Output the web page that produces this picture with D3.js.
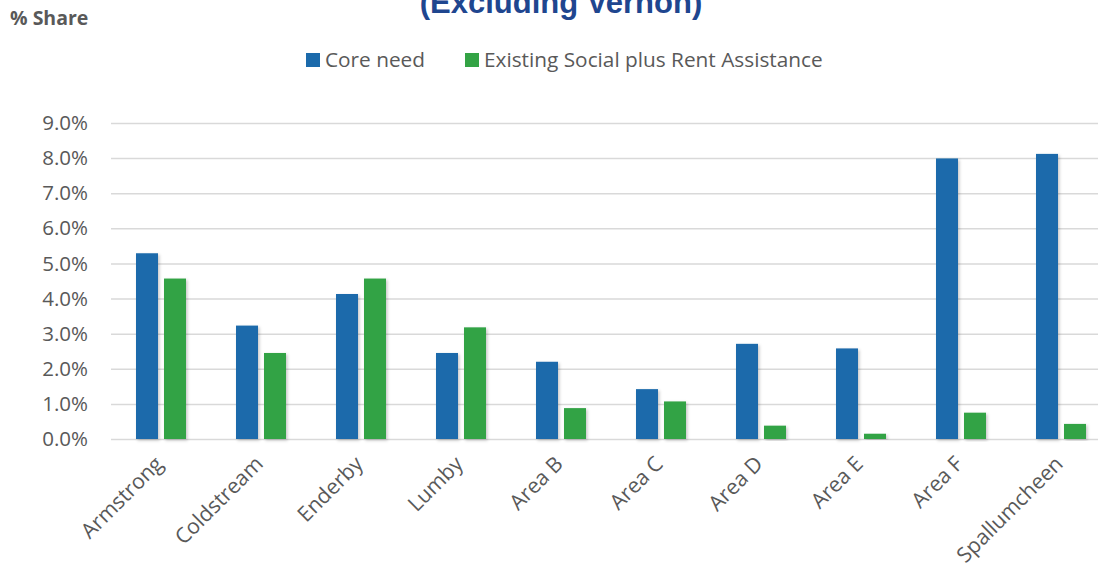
<!DOCTYPE html>
<html>
<head>
<meta charset="utf-8">
<script src="https://cdn.jsdelivr.net/npm/d3@7"></script>
<style>
  html, body { margin: 0; padding: 0; background: #fff; }
  svg { display: block; }
</style>
</head>
<body>
<svg id="chart" width="1098" height="571"></svg>
<script>
const categories = ["Armstrong", "Coldstream", "Enderby", "Lumby", "Area B", "Area C", "Area D", "Area E", "Area F", "Spallumcheen"];
const seriesNames = ["Core need", "Existing Social plus Rent Assistance"];
const coreNeed = [0.0529, 0.0323, 0.0413, 0.0245, 0.0220, 0.0142, 0.0271, 0.0258, 0.0799, 0.0812];
const existingSocial = [0.0457, 0.0245, 0.0457, 0.0318, 0.0088, 0.0107, 0.0038, 0.0015, 0.0075, 0.0043];
const yTicks = [0, 0.01, 0.02, 0.03, 0.04, 0.05, 0.06, 0.07, 0.08, 0.09];
const titleText = "(Excluding Vernon)";
const yAxisTitle = "% Share";

const colors = ["#1B6AAB", "#33A345"];
const textColor = "#595959";
const font = "'Open Sans', 'Noto Sans', sans-serif";

const svg = d3.select("#chart");
const W = 1098, H = 571;

const x0 = d3.scaleBand().domain(categories).range([111, 1111]).paddingInner(0.5).paddingOuter(0.25);
const x1 = d3.scaleBand().domain(seriesNames).range([0, x0.bandwidth()]).paddingInner(6 / 28);
const y = d3.scaleLinear().domain([0, 0.09]).range([439, 123]);

const defs = svg.append("defs");
const f = defs.append("filter").attr("id", "shadow").attr("x", "-30%").attr("y", "-10%").attr("width", "160%").attr("height", "120%");
f.append("feDropShadow").attr("dx", 1.5).attr("dy", 1.5).attr("stdDeviation", 1.8).attr("flood-color", "#000").attr("flood-opacity", 0.22);

// Title (partly cut off at the top, as in the reference)
svg.append("text")
  .attr("x", 561).attr("y", 13)
  .attr("text-anchor", "middle")
  .attr("font-family", "'Liberation Sans', Arial, sans-serif")
  .attr("font-weight", "bold")
  .attr("font-size", 31)
  .attr("fill", "#1F468F")
  .text(titleText);

svg.append("text")
  .attr("x", 10).attr("y", 25)
  .attr("font-family", font)
  .attr("font-weight", "bold")
  .attr("font-size", 19.5)
  .attr("fill", textColor)
  .text(yAxisTitle);

// Gridlines + y axis
const yAxis = d3.axisLeft(y).tickValues(yTicks).tickFormat(d3.format(".1%")).tickSize(-(W - 111)).tickPadding(22);
const gy = svg.append("g").attr("transform", "translate(111,0)").call(yAxis);
gy.select(".domain").remove();
gy.selectAll(".tick line").attr("stroke", "#D9D9D9").attr("stroke-width", 1.5);
gy.selectAll(".tick text")
  .attr("font-family", font).attr("font-size", 20.5).attr("fill", textColor)
  .attr("x", -23);

// Bars
const data = categories.map((c, i) => ({ cat: c, vals: [coreNeed[i], existingSocial[i]] }));
const groups = svg.append("g").selectAll("g").data(data).join("g")
  .attr("transform", d => `translate(${x0(d.cat)},0)`);
groups.selectAll("rect").data(d => d.vals.map((v, k) => ({ k, v })))
  .join("rect")
  .attr("x", d => x1(seriesNames[d.k]))
  .attr("width", x1.bandwidth())
  .attr("y", d => y(d.v))
  .attr("height", d => y(0) - y(d.v))
  .attr("fill", d => colors[d.k])
  .attr("filter", "url(#shadow)");

// X axis labels
const gx = svg.append("g");
gx.selectAll("text").data(categories).join("text")
  .attr("transform", d => `translate(${x0(d) + x0.bandwidth() / 2 - 2},460) rotate(-45)`)
  .attr("text-anchor", "end")
  .attr("dy", "0.35em")
  .attr("font-family", font).attr("font-size", 21.2).attr("fill", textColor)
  .text(d => d);

// Legend
const legend = svg.append("g");
const legendX = [306, 465];
seriesNames.forEach((s, i) => {
  legend.append("rect").attr("x", legendX[i]).attr("y", 53).attr("width", 14).attr("height", 14).attr("fill", colors[i]);
  legend.append("text").attr("x", legendX[i] + 19).attr("y", 60).attr("dy", "0.35em")
    .attr("font-family", font).attr("font-size", 20.8).attr("fill", textColor).text(s);
});
</script>
</body>
</html>
